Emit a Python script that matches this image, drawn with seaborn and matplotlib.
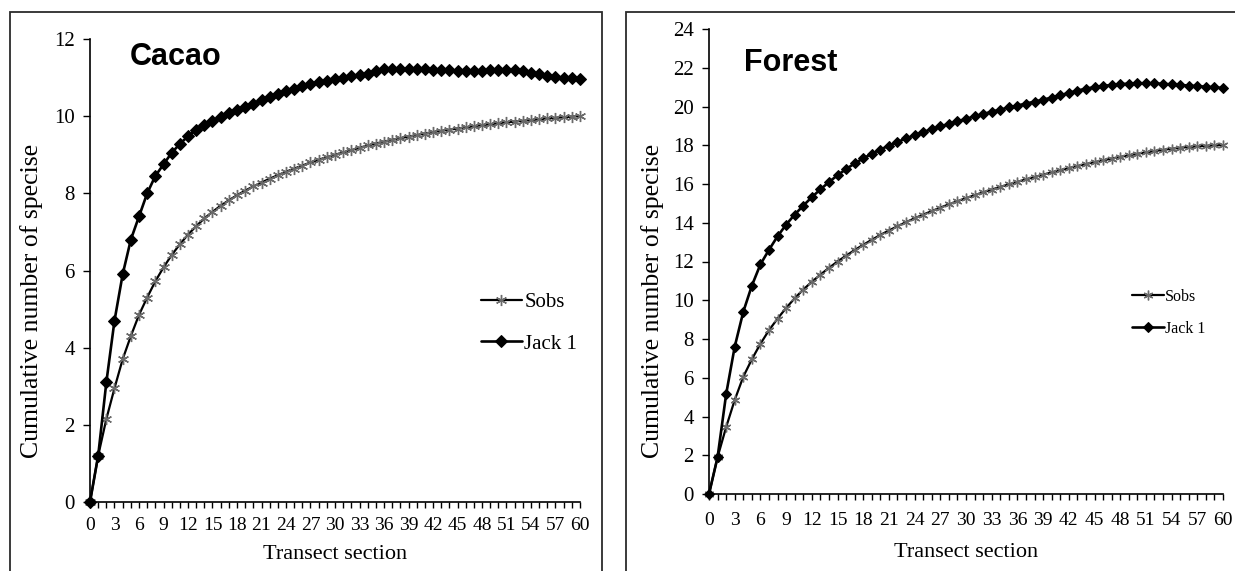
import numpy as np
import pandas as pd
import matplotlib
matplotlib.use("Agg")
import matplotlib.pyplot as plt
from matplotlib.patches import Rectangle
from matplotlib.ticker import MultipleLocator
import seaborn as sns

# ---------------- data ----------------
sections = list(range(0, 61))

cacao_sobs = [0, 1.2, 2.15, 2.95, 3.7, 4.3, 4.85, 5.3, 5.72, 6.08,
              6.4, 6.68, 6.93, 7.15, 7.35, 7.52, 7.68, 7.82, 7.95, 8.07,
              8.18, 8.28, 8.38, 8.47, 8.56, 8.64, 8.72, 8.8, 8.87, 8.94,
              9.0, 9.06, 9.12, 9.18, 9.24, 9.29, 9.34, 9.39, 9.43, 9.47,
              9.51, 9.55, 9.59, 9.62, 9.65, 9.68, 9.71, 9.74, 9.77, 9.79,
              9.82, 9.84, 9.86, 9.88, 9.9, 9.92, 9.94, 9.96, 9.97, 9.99,
              10.0]
cacao_jack1 = [0, 1.2, 3.1, 4.7, 5.9, 6.8, 7.4, 8.0, 8.45, 8.75,
               9.05, 9.28, 9.48, 9.65, 9.78, 9.88, 9.98, 10.07, 10.15, 10.23,
               10.32, 10.42, 10.5, 10.58, 10.65, 10.71, 10.77, 10.83, 10.88, 10.92,
               10.96, 11.0, 11.03, 11.06, 11.1, 11.16, 11.21, 11.22, 11.22, 11.22,
               11.22, 11.21, 11.2, 11.2, 11.19, 11.18, 11.18, 11.18, 11.18, 11.19,
               11.2, 11.2, 11.2, 11.17, 11.13, 11.08, 11.05, 11.02, 11.0, 10.98,
               10.97]
forest_sobs = [0, 1.9, 3.45, 4.85, 6.05, 6.95, 7.75, 8.45, 9.05, 9.6,
               10.1, 10.55, 10.95, 11.32, 11.67, 12.0, 12.3, 12.59, 12.86, 13.12,
               13.37, 13.6, 13.82, 14.03, 14.23, 14.42, 14.6, 14.78, 14.95, 15.11,
               15.27, 15.42, 15.57, 15.71, 15.85, 15.98, 16.11, 16.24, 16.36, 16.48,
               16.6, 16.71, 16.82, 16.93, 17.03, 17.13, 17.22, 17.31, 17.4, 17.48,
               17.56, 17.63, 17.7, 17.76, 17.82, 17.87, 17.91, 17.94, 17.97, 17.99,
               18.01]
forest_jack1 = [0, 1.9, 5.15, 7.6, 9.4, 10.75, 11.85, 12.6, 13.3, 13.9,
                14.42, 14.88, 15.32, 15.72, 16.1, 16.45, 16.77, 17.06, 17.32, 17.56,
                17.78, 17.98, 18.17, 18.35, 18.52, 18.68, 18.83, 18.97, 19.1, 19.23,
                19.36, 19.49, 19.61, 19.73, 19.84, 19.95, 20.05, 20.15, 20.25, 20.35,
                20.46, 20.58, 20.7, 20.82, 20.92, 21.0, 21.06, 21.11, 21.15, 21.18,
                21.2, 21.2, 21.19, 21.17, 21.14, 21.11, 21.08, 21.05, 21.02, 20.99,
                20.95]

series_labels = ["Sobs", "Jack 1"]
panel_titles = ["Cacao", "Forest"]
xlabel = "Transect section"
ylabel = "Cumulative number of specise"
y_max = [12, 24]

# ---------------- style ----------------
sns.set_style("white")
plt.rcParams["font.family"] = ["Liberation Serif", "DejaVu Serif"]
plt.rcParams["text.color"] = "black"
plt.rcParams["axes.labelcolor"] = "black"
plt.rcParams["xtick.color"] = "black"
plt.rcParams["ytick.color"] = "black"

W, H = 1235, 571
fig = plt.figure(figsize=(W / 100, H / 100), dpi=100)

def fx(px):
    return px / W

def fy(py):
    return 1 - py / H

# axes placement (pixels)
ax1 = fig.add_axes([fx(90), fy(502), fx(580) - fx(90), fy(39) - fy(502)])
ax2 = fig.add_axes([fx(709), fy(494), fx(1223) - fx(709), fy(29) - fy(494)])

# panel frames
fig.patches.append(Rectangle((fx(10), -0.05), fx(602) - fx(10), fy(12) + 0.05,
                             transform=fig.transFigure, fill=False,
                             edgecolor="#2b2b2b", linewidth=1.3, zorder=0))
fig.patches.append(Rectangle((fx(626), -0.05), 0.6, fy(12) + 0.05,
                             transform=fig.transFigure, fill=False,
                             edgecolor="#2b2b2b", linewidth=1.3, zorder=0))

panels = [
    (ax1, cacao_sobs, cacao_jack1, 0, dict(ms_star=8, ms_d=6.2, fs_leg=15,
                                           leg_xy=(0.78, 0.47), spacing=1.05,
                                           title_xy=(0.082, 0.962), lw=1.6,
                                           xpad=7, xlpad=8,
                                           ylab_xy=(-0.095, 0.435))),
    (ax2, forest_sobs, forest_jack1, 1, dict(ms_star=7, ms_d=5.4, fs_leg=11.5,
                                             leg_xy=(0.81, 0.455), spacing=1.0,
                                             title_xy=(0.068, 0.927), lw=1.6,
                                             xpad=9, xlpad=10,
                                             ylab_xy=(-0.088, 0.415))),
]

for ax, sobs, jack, k, opt in panels:
    df = pd.DataFrame({"section": sections, "Sobs": sobs, "Jack 1": jack})
    sns.lineplot(data=df, x="section", y="Sobs", ax=ax, color="black",
                 linewidth=opt["lw"], marker=(6, 2, 0), markersize=opt["ms_star"],
                 markeredgecolor="#6a6a6a", markeredgewidth=1.0,
                 label=series_labels[0], zorder=3)
    sns.lineplot(data=df, x="section", y="Jack 1", ax=ax, color="black",
                 linewidth=opt["lw"] + 0.3, marker="D", markersize=opt["ms_d"],
                 markerfacecolor="black", markeredgecolor="black",
                 label=series_labels[1], zorder=4)

    ax.set_xlim(0, 60)
    ax.set_ylim(0, y_max[k])
    ax.xaxis.set_major_locator(MultipleLocator(3))
    ax.xaxis.set_minor_locator(MultipleLocator(1))
    ax.yaxis.set_major_locator(MultipleLocator(2))
    ax.tick_params(axis="x", which="both", direction="out", length=4, width=1,
                   bottom=True, color="black", labelsize=14, pad=opt["xpad"])
    ax.tick_params(axis="y", which="major", direction="out", length=5, width=1,
                   left=True, color="black", labelsize=15, pad=6)
    for side in ["top", "right"]:
        ax.spines[side].set_visible(False)
    for side in ["left", "bottom"]:
        ax.spines[side].set_color("black")
        ax.spines[side].set_linewidth(1.2)
    ax.set_xlabel(xlabel, fontsize=16, labelpad=opt["xlpad"])
    ax.set_ylabel(ylabel, fontsize=18.5)
    ax.yaxis.set_label_coords(*opt["ylab_xy"])
    ax.patch.set_alpha(0)
    for c in ax.get_children():
        try:
            c.set_clip_on(False)
        except Exception:
            pass

    ax.text(opt["title_xy"][0], opt["title_xy"][1], panel_titles[k],
            transform=ax.transAxes, fontsize=22, fontweight="bold", color="black",
            family=["Liberation Sans", "DejaVu Sans"], ha="left", va="center")

    leg = ax.legend(loc="upper left", bbox_to_anchor=opt["leg_xy"], frameon=False,
                    fontsize=opt["fs_leg"], handlelength=2.0, handletextpad=0.1,
                    labelspacing=opt["spacing"], borderaxespad=0)

fig.savefig("out.png", dpi=100)
